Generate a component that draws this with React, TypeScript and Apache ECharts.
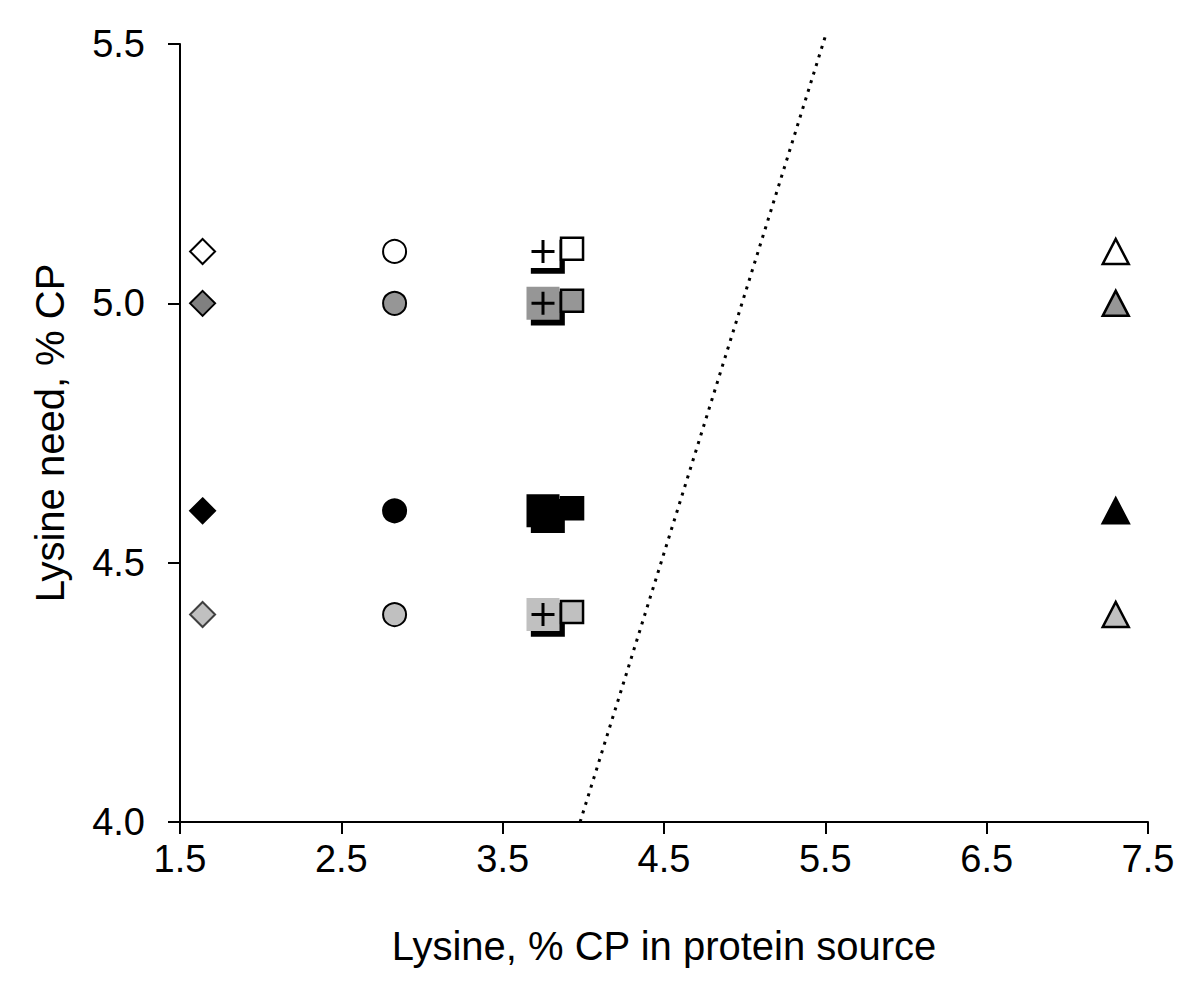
import React, { useEffect, useRef } from "react";
import * as echarts from "echarts";

const levels = [5.1, 5.0, 4.6, 4.4];
const fillColors = ["#ffffff", "#969696", "#000000", "#c0c0c0"];
const diamondFills = ["#ffffff", "#808080", "#000000", "#c0c0c0"];
const diamondBorders = ["#000000", "#000000", "#000000", "#404040"];

const diamondX = 1.64;
const circleX = 2.83;
const triangleX = 7.3;
const plusX = 3.75;
const shadowX = 3.78;
const shadowY = [5.09, 4.99, 4.59, 4.39];
const openSquareX = 3.93;
const openSquareY = [5.105, 5.005, 4.605, 4.405];

const lineX = [3.98, 5.5];
const lineY = [4.0, 5.515];

const FONT = "Liberation Sans, Arial, sans-serif";
const PLUS = "path://M10,0h3v10h10v3h-10v10h-3v-10h-10v-3h10z";

function pts(x: number, ys: number[], fills: string[], borders: string[] | null, bw: number) {
  return ys.map((y, i) => ({
    value: [x, y],
    itemStyle: {
      color: fills[i],
      opacity: 1,
      borderColor: borders ? borders[i] : fills[i],
      borderWidth: borders ? bw : 0,
    },
  }));
}

export default function App() {
  const ref = useRef<HTMLDivElement>(null);
  useEffect(() => {
    if (!ref.current) return;
    const chart = echarts.init(ref.current, null, { renderer: "svg" });
    const black = ["#000", "#000", "#000", "#000"];
    chart.setOption({
      animation: false,
      backgroundColor: "#ffffff",
      grid: { left: 180, top: 44, right: 52, bottom: 162 },
      xAxis: {
        type: "value",
        min: 1.5,
        max: 7.5,
        interval: 1,
        splitLine: { show: false },
        axisLine: { lineStyle: { color: "#000", width: 2 } },
        axisTick: { inside: false, length: 12, lineStyle: { color: "#000", width: 2 } },
        axisLabel: { color: "#000", fontSize: 38, fontFamily: FONT, margin: 18, formatter: (v: number) => v.toFixed(1) },
        name: "Lysine, % CP in protein source",
        nameLocation: "middle",
        nameGap: 104,
        nameTextStyle: { color: "#000", fontSize: 40, fontFamily: FONT },
      },
      yAxis: {
        type: "value",
        min: 4.0,
        max: 5.5,
        interval: 0.5,
        splitLine: { show: false },
        axisLine: { lineStyle: { color: "#000", width: 2 } },
        axisTick: { inside: false, length: 12, lineStyle: { color: "#000", width: 2 } },
        axisLabel: { color: "#000", fontSize: 38, fontFamily: FONT, margin: 35, formatter: (v: number) => v.toFixed(1) },
        name: "Lysine need, % CP",
        nameLocation: "middle",
        nameGap: 110,
        nameTextStyle: { color: "#000", fontSize: 40, fontFamily: FONT },
      },
      series: [
        {
          type: "line",
          data: lineX.map((x, i) => [x, lineY[i]]),
          showSymbol: false,
          symbol: "none",
          clip: false,
          silent: true,
          lineStyle: { color: "#000", width: 3, type: [3, 6] },
        },
        {
          type: "scatter",
          symbol: "diamond",
          symbolSize: 25,
          silent: true,
          data: pts(diamondX, levels, diamondFills, diamondBorders, 2),
        },
        {
          type: "scatter",
          symbol: "circle",
          symbolSize: 23,
          silent: true,
          data: pts(circleX, levels, fillColors, black, 2),
        },
        {
          type: "scatter",
          symbol: "triangle",
          symbolSize: [26, 25],
          silent: true,
          data: pts(triangleX, levels, fillColors, black, 2.5),
        },
        {
          type: "scatter",
          symbol: "rect",
          symbolSize: 34,
          silent: true,
          z: 3,
          data: pts(shadowX, shadowY, black, null, 0),
        },
        {
          type: "scatter",
          symbol: "rect",
          symbolSize: 33,
          silent: true,
          z: 4,
          data: pts(plusX, levels, fillColors, null, 0),
        },
        {
          type: "scatter",
          symbol: PLUS,
          symbolSize: 23,
          silent: true,
          z: 5,
          data: pts(plusX, levels, black, null, 0),
        },
        {
          type: "scatter",
          symbol: "rect",
          symbolSize: 22,
          silent: true,
          z: 6,
          data: pts(openSquareX, openSquareY, fillColors, black, 2.5),
        },
      ],
    });
    return () => chart.dispose();
  }, []);
  return (
    <div
      ref={ref}
      style={{ position: "fixed", left: 0, top: 0, width: 1200, height: 984, background: "#fff" }}
    />
  );
}
